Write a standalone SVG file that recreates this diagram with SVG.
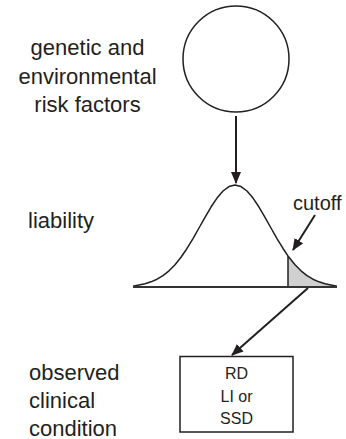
<svg xmlns="http://www.w3.org/2000/svg" width="346" height="439" viewBox="0 0 346 439">
<style>
.lbl{font-family:"Liberation Sans",Arial,sans-serif;font-size:22px;fill:#231f20}
.sm{font-family:"Liberation Sans",Arial,sans-serif;font-size:16px;fill:#231f20;text-anchor:middle}
.ln{fill:none;stroke:#231f20;stroke-width:1.5}
.conn{fill:none;stroke:#231f20;stroke-width:2}
</style>
<defs>
<marker id="ah" viewBox="0 0 12 10" refX="11" refY="5" markerWidth="6" markerHeight="5" orient="auto" markerUnits="strokeWidth">
<path d="M0,0 L12,5 L0,10 z" fill="#231f20"/>
</marker>
</defs>
<rect width="346" height="439" fill="#fff"/>
<g id="risk-factors">
<circle cx="236" cy="59" r="53" class="ln"/>
<text class="lbl" text-anchor="middle" x="87.5" y="55">genetic and</text>
<text class="lbl" text-anchor="middle" x="87.5" y="83.5">environmental</text>
<text class="lbl" text-anchor="middle" x="87.5" y="112">risk factors</text>
</g>
<g id="liability">
<path d="M288,287 L288,255.87 L289,257.25 L295,264.71 L301,270.81 L307,275.58 L313,279.2 L319,281.83 L325,283.67 L331,284.92 L337,286.5 L337,287 Z" fill="#d0d0d0"/>
<polyline class="ln" stroke-linejoin="round" points="133,286.3 139,284.92 145,283.67 151,281.83 157,279.2 163,275.58 169,270.81 175,264.71 181,257.25 187,248.46 193,238.59 199,228 205,217.26 211,207.03 217,198.05 223,191.02 229,186.54 235,185 241,186.54 247,191.02 253,198.05 259,207.03 265,217.26 271,228 277,238.59 283,248.46 288,255.87 289,257.25 295,264.71 301,270.81 307,275.58 313,279.2 319,281.83 325,283.67 331,284.92 337,286.3"/>
<line x1="288" y1="256" x2="288" y2="287" class="ln"/>
<line x1="133" y1="287" x2="337" y2="287" stroke="#333" stroke-width="2"/>
<text class="lbl" x="28" y="228">liability</text>
<text class="lbl" x="293" y="210" style="font-size:20px">cutoff</text>
</g>
<g id="condition">
<rect x="180" y="356.5" width="113" height="75.5" class="ln"/>
<text class="sm" x="236.5" y="378.5">RD</text>
<text class="sm" x="236.5" y="401.5">LI or</text>
<text class="sm" x="236.5" y="424">SSD</text>
<text class="lbl" x="29" y="380">observed</text>
<text class="lbl" x="29" y="408">clinical</text>
<text class="lbl" x="29" y="435.5">condition</text>
</g>
<g id="connectors">
<line x1="236" y1="116" x2="236" y2="183" class="conn" marker-end="url(#ah)"/>
<line x1="315" y1="215" x2="293" y2="250" class="conn" marker-end="url(#ah)"/>
<line x1="308" y1="288" x2="232" y2="355" class="conn" marker-end="url(#ah)"/>
</g>
</svg>
